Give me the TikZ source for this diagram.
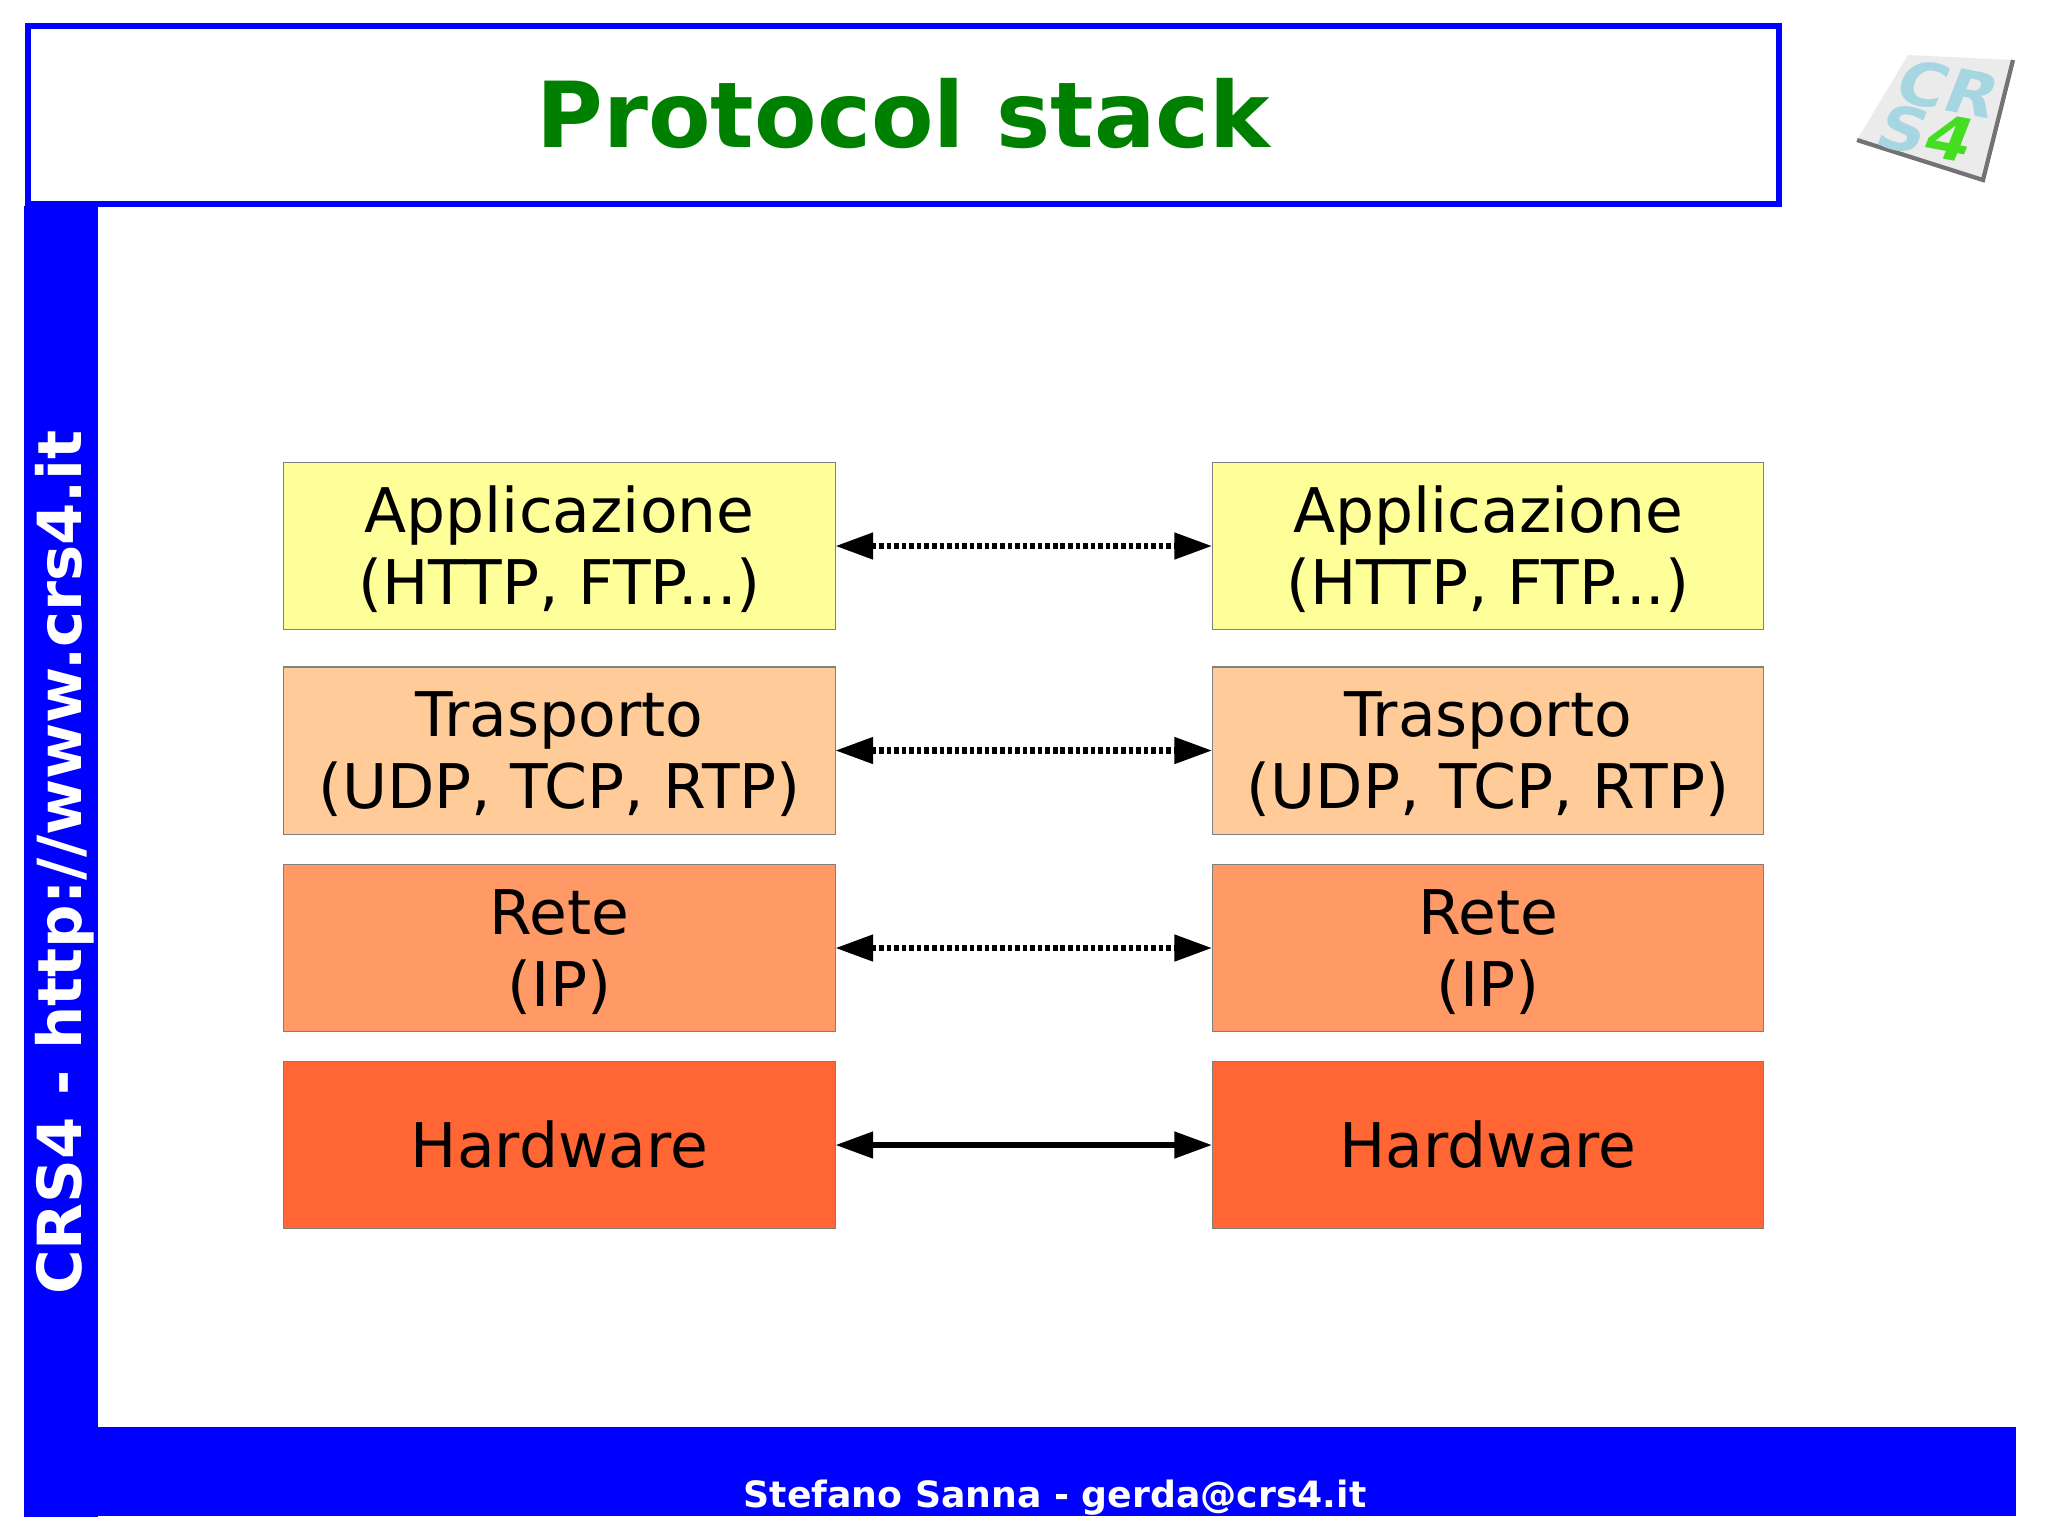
\documentclass[tikz,border=0pt]{standalone}
\usepackage{fontspec}
\setmainfont{DejaVu Sans}
\usetikzlibrary{arrows.meta}
\definecolor{crsblue}{HTML}{0000FF}
\definecolor{crsgreen}{HTML}{008000}
\definecolor{appcolor}{HTML}{FFFF99}
\definecolor{transcolor}{HTML}{FFCC99}
\definecolor{retecolor}{HTML}{FF9966}
\definecolor{hwcolor}{HTML}{FF6633}
\definecolor{logoblue}{HTML}{A6D6E2}
\definecolor{logogreen}{HTML}{44DD22}
\newcommand{\tophead}{\rule{0pt}{15pt}}
\tikzset{
  layerbox/.style={draw=black!50,line width=0.3pt,minimum width=5.51cm,minimum height=1.67cm,outer sep=0pt,inner sep=0pt,align=center,font=\fontsize{17.5}{20.4}\selectfont},
  peerlink/.style={line width=1.9pt,{Triangle[length=10.8pt,width=7.2pt]}-{Triangle[length=10.8pt,width=7.2pt]}},
  virtual/.style={peerlink,dash pattern=on 1.3pt off 0.85pt},
  whitetext/.style={text=white,inner sep=0pt},
  logoletters/.style={transform shape,inner sep=0pt,text=logoblue,font=\bfseries\fontsize{16}{16}\selectfont}
}
\begin{document}
\begin{tikzpicture}[x=0.01cm,y=-0.01cm]
\useasboundingbox (0,0) rectangle (2048,1535);
\fill[crsblue] (24,206) rectangle (98,1517);
\fill[crsblue] (98,1427) rectangle (2016,1516);
\node[draw=crsblue,line width=1.9pt,minimum width=17.5cm,minimum height=1.78cm,inner sep=0pt,text=crsgreen,font=\bfseries\fontsize{25.9}{30}\selectfont] (title) at (903.5,115) {\raisebox{1.3pt}{Protocol stack}};
\node[whitetext,rotate=90,font=\bfseries\fontsize{17.3}{20}\selectfont] (site) at (65,862.5) {CRS4 - http://www.crs4.it};
\node[whitetext,font=\bfseries\fontsize{10.3}{12}\selectfont] (footer) at (1055,1498) {Stefano Sanna - gerda@crs4.it};
\node[layerbox,fill=appcolor] (appL) at (559.5,546) {\tophead Applicazione\\(HTTP, FTP...)};
\node[layerbox,fill=appcolor] (appR) at (1488,546) {\tophead Applicazione\\(HTTP, FTP...)};
\node[layerbox,fill=transcolor] (transL) at (559.5,750.5) {\tophead Trasporto\\(UDP, TCP, RTP)};
\node[layerbox,fill=transcolor] (transR) at (1488,750.5) {\tophead Trasporto\\(UDP, TCP, RTP)};
\node[layerbox,fill=retecolor] (reteL) at (559.5,948) {\tophead Rete\\(IP)};
\node[layerbox,fill=retecolor] (reteR) at (1488,948) {\tophead Rete\\(IP)};
\node[layerbox,fill=hwcolor] (hwL) at (559.5,1145) {Hardware};
\node[layerbox,fill=hwcolor] (hwR) at (1488,1145) {Hardware};
\draw[virtual] (appL) -- (appR);
\draw[virtual] (transL) -- (transR);
\draw[virtual] (reteL) -- (reteR);
\draw[peerlink] (hwL) -- (hwR);
\fill[black!8] (1908,55) -- (2013,60) -- (1983,180) -- (1857,140) -- cycle;
\draw[black!55,line width=1.2pt] (1857,140) -- (1983,180) -- (2013,60);
\begin{scope}[shift={(1936,112)},cm={1.15,-0.22,0.40,1.02,(0,0)}]
\node[logoletters] (logoCR) at (3,-23) {CR};
\node[logoletters] (logoSF) at (-1,21) {S{\color{logogreen}4}};
\end{scope}
\end{tikzpicture}
\end{document}
